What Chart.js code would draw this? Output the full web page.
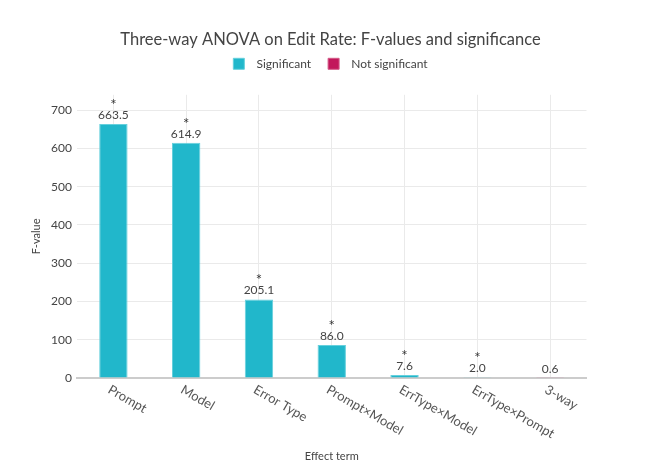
<!DOCTYPE html>
<html>
<head>
<meta charset="utf-8">
<script src="https://cdn.jsdelivr.net/npm/chart.js@4"></script>
<style>
  html, body { margin: 0; padding: 0; background: #fff; }
  #wrap { width: 661px; height: 472px; }
</style>
</head>
<body>
<div id="wrap"><canvas id="chart"></canvas></div>
<script>
// effect terms and their F-values
const categories = ['Prompt', 'Model', 'Error Type', 'Prompt\u00d7Model', 'ErrType\u00d7Model', 'ErrType\u00d7Prompt', '3-way'];
const fValues = [663.5, 614.9, 205.1, 86.0, 7.6, 2.0, 0.6];
const significant = [true, true, true, true, true, true, false];
const yTicks = [0, 100, 200, 300, 400, 500, 600, 700];

const sigValues = fValues.map((v, i) => significant[i] ? v : null);
const nonSigValues = fValues.map((v, i) => significant[i] ? null : v);

const FONT = 'Lato, "Source Sans Pro", sans-serif';
const TEXT = '#444';

// value + star above each bar
const barLabels = {
    id: 'barLabels',
    afterDatasetsDraw(chart) {
        const ctx = chart.ctx;
        ctx.save();
        ctx.textAlign = 'center';
        ctx.textBaseline = 'middle';
        ctx.fillStyle = TEXT;
        chart.data.datasets.forEach((ds, d) => {
            const meta = chart.getDatasetMeta(d);
            meta.data.forEach((bar, i) => {
                const v = ds.data[i];
                if (v === null) return;
                ctx.font = '12px ' + FONT;
                ctx.fillText(v.toFixed(1), bar.x, bar.y - 9);
                if (significant[i]) {
                    ctx.fillStyle = '#333';
                    ctx.font = '15px ' + FONT;
                    ctx.fillText('*', bar.x, bar.y - 19);
                    ctx.fillStyle = TEXT;
                }
            });
        });
        ctx.restore();
    }
};

// slanted category labels, starting at the tick and running down-right
const slantLabels = {
    id: 'slantLabels',
    afterDraw(chart) {
        const ctx = chart.ctx;
        const x = chart.scales.x;
        ctx.save();
        ctx.font = '13px ' + FONT;
        ctx.fillStyle = '#555';
        ctx.textAlign = 'left';
        ctx.textBaseline = 'top';
        categories.forEach((c, i) => {
            ctx.save();
            ctx.translate(x.getPixelForValue(i) - 1, x.top + 5);
            ctx.rotate(30 * Math.PI / 180);
            ctx.fillText(c, 0, 0);
            ctx.restore();
        });
        ctx.restore();
    }
};

// a bit more room below the legend
const legendGap = {
    id: 'legendGap',
    beforeInit(chart) {
        const fit = chart.legend.fit;
        chart.legend.fit = function () {
            fit.bind(chart.legend)();
            this.height += 15;
        };
    }
};

new Chart(document.getElementById('chart'), {
    type: 'bar',
    data: {
        labels: categories,
        datasets: [
            {
                label: 'Significant',
                data: sigValues,
                backgroundColor: '#21b7cb',
                borderColor: '#66d0dd',
                borderWidth: 1,
                grouped: false,
                barPercentage: 0.39,
                categoryPercentage: 1
            },
            {
                label: 'Not significant',
                data: nonSigValues,
                backgroundColor: '#c2185b',
                borderColor: '#d45a88',
                borderWidth: 1,
                grouped: false,
                barPercentage: 0.39,
                categoryPercentage: 1
            }
        ]
    },
    options: {
        responsive: true,
        maintainAspectRatio: false,
        animation: false,
        layout: { padding: { left: 30, right: 30, top: 0, bottom: 9 } },
        plugins: {
            title: {
                display: true,
                text: 'Three-way ANOVA on Edit Rate: F-values and significance',
                color: TEXT,
                font: { family: FONT, size: 16.5, weight: 'normal' },
                padding: { top: 30, bottom: -9 }
            },
            legend: {
                display: true,
                labels: {
                    color: TEXT,
                    font: { family: FONT, size: 12 },
                    boxWidth: 11,
                    boxHeight: 11,
                    padding: 17,
                    generateLabels(chart) {
                        const items = Chart.defaults.plugins.legend.labels.generateLabels(chart);
                        items.forEach(it => { it.text = '  ' + it.text; });
                        return items;
                    }
                }
            },
            tooltip: { enabled: false }
        },
        scales: {
            x: {
                ticks: { display: false },
                grid: { offset: false, color: '#eaeaea', drawTicks: false },
                border: { display: true, color: '#ccc', width: 2 },
                title: {
                    display: true,
                    text: 'Effect term',
                    color: TEXT,
                    font: { family: FONT, size: 11 },
                    padding: { top: 0, bottom: 0 }
                },
                afterFit(scale) { scale.height = 85; }
            },
            y: {
                min: 0,
                max: 740,
                afterBuildTicks(scale) {
                    scale.ticks = yTicks.map(v => ({ value: v }));
                },
                ticks: {
                    color: TEXT,
                    font: { family: FONT, size: 12 },
                    padding: 5
                },
                grid: { color: '#eaeaea', drawTicks: false },
                border: { display: false },
                title: {
                    display: true,
                    text: 'F-value',
                    color: TEXT,
                    font: { family: FONT, size: 11 },
                    padding: { top: 0, bottom: 0 }
                },
                afterFit(scale) { scale.width = 47; }
            },
            // empty right-hand axis, only keeps the plot off the right edge
            yPad: {
                position: 'right',
                display: true,
                ticks: { display: false },
                grid: { display: false, drawTicks: false },
                border: { display: false },
                afterFit(scale) { scale.width = 44.5; }
            }
        }
    },
    plugins: [barLabels, slantLabels, legendGap]
});
</script>
</body>
</html>
